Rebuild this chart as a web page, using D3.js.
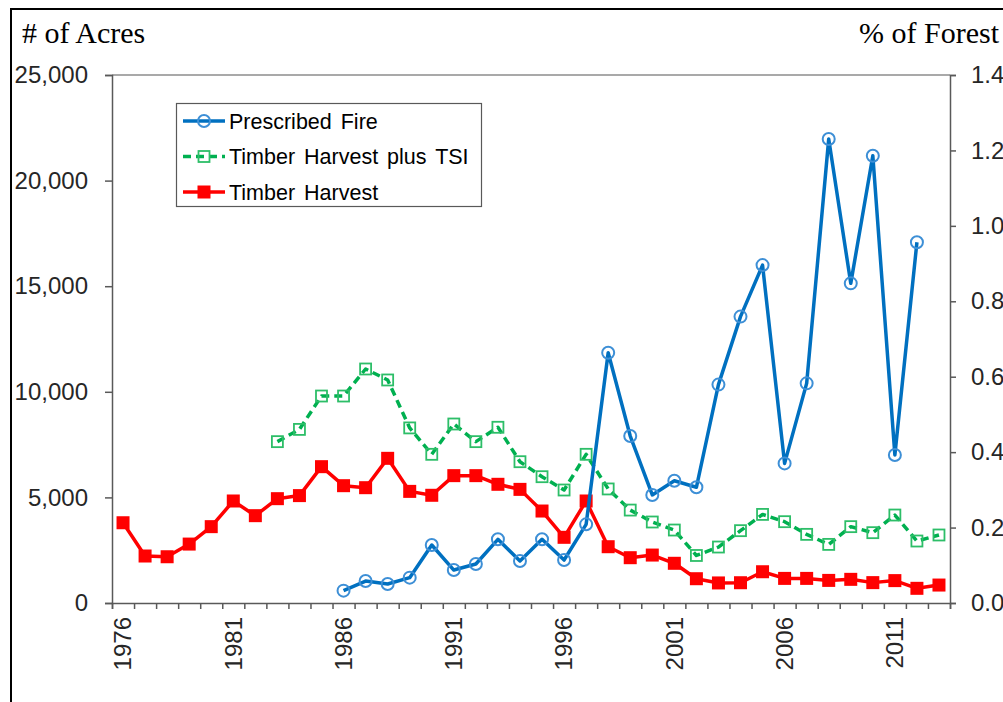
<!DOCTYPE html>
<html>
<head>
<meta charset="utf-8">
<script src="https://cdn.jsdelivr.net/npm/d3@7"></script>
<style>
  body { margin: 0; background: #fff; }
  svg { display: block; }
</style>
</head>
<body>
<script>
        // years on the x axis (one band per year)
        const years = d3.range(1976, 2014);
        const labelYears = [1976, 1981, 1986, 1991, 1996, 2001, 2006, 2011];

        // acres
        const fireYears = d3.range(1986, 2013);
        const fire = [585, 1040, 900, 1200, 2745, 1560, 1845, 3015, 1990, 3015, 2035, 3725,
            11850, 7905, 5115, 5790, 5480, 10340, 13560, 16000, 6610, 10400, 21970, 15135,
            21180, 7010, 17080];
        const tsiYears = d3.range(1983, 2014);
        const tsi = [7640, 8220, 9800, 9800, 11080, 10560, 8290, 7040, 8475, 7640, 8320, 6690,
            5980, 5350, 7040, 5400, 4400, 3835, 3455, 2250, 2650, 3425, 4195, 3850, 3250,
            2775, 3615, 3330, 4165, 2935, 3220];
        const harvestYears = d3.range(1976, 2014);
        const harvest = [3800, 2225, 2190, 2790, 3615, 4830, 4135, 4940, 5085, 6455, 5555,
            5460, 6850, 5285, 5100, 6030, 6030, 5620, 5380, 4355, 3110, 4830, 2665, 2145,
            2270, 1880, 1150, 950, 960, 1480, 1165, 1165, 1070, 1120, 965, 1060, 695, 850];

        const leftTicks = [0, 5000, 10000, 15000, 20000, 25000];
        const rightTicks = [0, 0.2, 0.4, 0.6, 0.8, 1.0, 1.2, 1.4];

        const width = 1003, height = 702;
        const plot = { left: 112, right: 950, top: 75, bottom: 603 };

        const svg = d3.select("body")
            .append("svg")
            .attr("width", width)
            .attr("height", height);

        const x = d3.scaleBand()
            .domain(years)
            .range([plot.left, plot.right])
            .padding(0);
        const xEdge = d3.scaleLinear()
            .domain([0, years.length])
            .range([plot.left, plot.right]);
        const y = d3.scaleLinear()
            .domain([0, 25000])
            .range([plot.bottom, plot.top]);
        const yR = d3.scaleLinear()
            .domain([0, 1.4])
            .range([plot.bottom, plot.top]);
        const cx = (yr) => x(yr) + x.bandwidth() / 2;

        // outer frame
        svg.append("path")
            .attr("d", `M11,${height} L11,9 L${width},9`)
            .attr("fill", "none")
            .attr("stroke", "#000")
            .attr("stroke-width", 2);

        // top border of plot area
        svg.append("line")
            .attr("x1", plot.left).attr("x2", plot.right)
            .attr("y1", plot.top).attr("y2", plot.top)
            .attr("stroke", "#8c8c8c")
            .attr("stroke-width", 1.5);

        const tickFont = "'Liberation Sans', Arial, sans-serif";

        // left axis
        const gl = svg.append("g")
            .attr("transform", `translate(${plot.left},0)`)
            .call(d3.axisLeft(y).tickValues(leftTicks).tickFormat(d3.format(",")).tickSize(7).tickPadding(17));
        // right axis
        const gr = svg.append("g")
            .attr("transform", `translate(${plot.right},0)`)
            .call(d3.axisRight(yR).tickValues(rightTicks).tickFormat(d3.format(".1f")).tickSize(6).tickPadding(15));
        // bottom axis: ticks on band edges
        const gb = svg.append("g")
            .attr("transform", `translate(0,${plot.bottom})`)
            .call(d3.axisBottom(xEdge).tickValues(d3.range(0, years.length + 1)).tickFormat("").tickSize(6));
        // year labels
        const gx = svg.append("g")
            .attr("transform", `translate(0,${plot.bottom})`)
            .call(d3.axisBottom(x).tickValues(labelYears).tickSize(0).tickPadding(0));
        gx.select(".domain").remove();
        gx.selectAll("text")
            .attr("transform", "rotate(-90)")
            .attr("x", -14)
            .attr("y", 0)
            .attr("dy", "0.35em")
            .attr("text-anchor", "end");

        [gl, gr, gb, gx].forEach((g) => {
            g.selectAll(".domain, line").attr("stroke", "#595959").attr("stroke-width", 1.5);
            g.selectAll("text")
                .attr("font-family", tickFont)
                .attr("font-size", 24)
                .attr("fill", "#262626");
        });

        // axis titles
        svg.append("text")
            .attr("x", 22).attr("y", 43)
            .attr("font-family", "'Liberation Serif', 'Times New Roman', serif")
            .attr("font-size", 30)
            .attr("fill", "#000")
            .text("# of Acres");
        svg.append("text")
            .attr("x", 859).attr("y", 43)
            .attr("font-family", "'Liberation Serif', 'Times New Roman', serif")
            .attr("font-size", 30)
            .attr("fill", "#000")
            .text("% of Forest");

        const line = d3.line()
            .x((d) => cx(d.year))
            .y((d) => y(d.value));

        const pair = (ys, vs) => ys.map((yr, i) => ({ year: yr, value: vs[i] }));
        const series = [
            { name: "Prescribed Fire", data: pair(fireYears, fire), color: "#0070C0", marker: "circle", markColor: "#3D8FD6", dash: null },
            { name: "Timber Harvest plus TSI", data: pair(tsiYears, tsi), color: "#00B050", marker: "open", markColor: "#2DBE68", dash: "8,5" },
            { name: "Timber Harvest", data: pair(harvestYears, harvest), color: "#FF0000", marker: "filled", markColor: "#FF0000", dash: null }
        ];

        const g = svg.append("g");
        // draw in reverse so fire sits on top
        [series[2], series[1], series[0]].forEach((s) => {
            g.append("path")
                .datum(s.data)
                .attr("d", line)
                .attr("fill", "none")
                .attr("stroke", s.color)
                .attr("stroke-width", 3.5)
                .attr("stroke-linejoin", "round")
                .attr("stroke-dasharray", s.dash);
            drawMarkers(g, s, s.data.map((d) => [cx(d.year), y(d.value)]));
        });

        function drawMarkers(parent, s, pts) {
            const m = parent.append("g");
            if (s.marker === "circle") {
                m.selectAll("circle").data(pts).enter().append("circle")
                    .attr("cx", (p) => p[0]).attr("cy", (p) => p[1]).attr("r", 6)
                    .attr("fill", "none").attr("stroke", s.markColor).attr("stroke-width", 2);
            } else if (s.marker === "open") {
                m.selectAll("rect").data(pts).enter().append("rect")
                    .attr("x", (p) => p[0] - 5.5).attr("y", (p) => p[1] - 5.5)
                    .attr("width", 11).attr("height", 11)
                    .attr("fill", "none").attr("stroke", s.markColor).attr("stroke-width", 1.8);
            } else {
                m.selectAll("rect").data(pts).enter().append("rect")
                    .attr("x", (p) => p[0] - 6.5).attr("y", (p) => p[1] - 6.5)
                    .attr("width", 13).attr("height", 13)
                    .attr("fill", s.markColor);
            }
        }

        // legend
        const lg = svg.append("g");
        lg.append("rect")
            .attr("x", 176.5).attr("y", 103.5)
            .attr("width", 305).attr("height", 103)
            .attr("fill", "#fff")
            .attr("stroke", "#595959")
            .attr("stroke-width", 1.2);
        series.forEach((s, i) => {
            const ly = 121 + i * 35.5;
            lg.append("line")
                .attr("x1", 183).attr("x2", 225)
                .attr("y1", ly).attr("y2", ly)
                .attr("stroke", s.color)
                .attr("stroke-width", 3.5)
                .attr("stroke-dasharray", s.dash);
            drawMarkers(lg, s, [[204, ly]]);
            lg.append("text")
                .attr("x", 229).attr("y", ly)
                .attr("dy", "0.36em")
                .attr("font-family", tickFont)
                .attr("font-size", 21.5)
                .attr("word-spacing", 3)
                .attr("fill", "#000")
                .text(s.name);
        });
</script>
</body>
</html>
